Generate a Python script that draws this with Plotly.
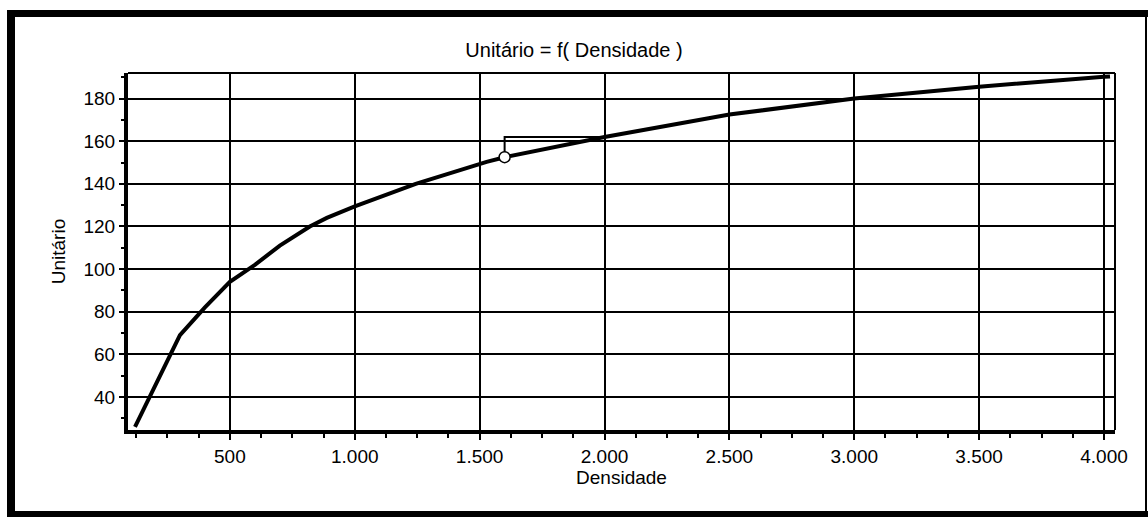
import plotly.graph_objects as go

# ---- data ----
densidade = [120, 200, 300, 400, 500, 600, 700, 820, 888, 1000, 1244, 1528, 1600, 2000, 2500, 3000, 3500, 4000, 4024]
unitario = [26, 45, 69, 82, 94, 102, 111, 120, 124, 129.4, 140, 150.3, 152.5, 162, 172.5, 180, 185.6, 190.2, 190.4]

marker_x = [1600]
marker_y = [152.5]
bracket_x = [1600, 1600, 2000]
bracket_y = [152.5, 162, 162]

x_tickvals = [500, 1000, 1500, 2000, 2500, 3000, 3500, 4000]
x_ticktext = ["500", "1.000", "1.500", "2.000", "2.500", "3.000", "3.500", "4.000"]
y_tickvals = [40, 60, 80, 100, 120, 140, 160, 180]
y_ticktext = ["40", "60", "80", "100", "120", "140", "160", "180"]

# ---- layout constants ----
W, H = 1148, 517
ML, MR, MT, MB = 128, 33, 73, 87
PW, PH = W - ML - MR, H - MT - MB
FONT = "Liberation Sans, Arial, sans-serif"


def px(x):
    return (x - ML) / PW


def py(y):
    return (H - MB - y) / PH


fig = go.Figure()
fig.add_trace(go.Scatter(x=densidade, y=unitario, mode="lines",
                         line=dict(color="black", width=4), showlegend=False))
fig.add_trace(go.Scatter(x=bracket_x, y=bracket_y, mode="lines",
                         line=dict(color="black", width=2), showlegend=False))
fig.add_trace(go.Scatter(x=marker_x, y=marker_y, mode="markers",
                         marker=dict(size=11, color="white", line=dict(color="black", width=1.5)),
                         showlegend=False))

shapes = []
# outer scanned frame
for (x0, y0, x1, y1) in [(7, 10, 15, 517), (7, 10, 1148, 17), (7, 511, 1148, 517), (1145, 10, 1147, 517)]:
    shapes.append(dict(type="rect", xref="paper", yref="paper",
                       x0=px(x0), x1=px(x1), y0=py(y1), y1=py(y0),
                       fillcolor="black", line=dict(width=0), layer="above"))
# top and right plot frame (thin)
shapes.append(dict(type="line", xref="paper", yref="paper", x0=0, x1=1, y0=1, y1=1,
                   line=dict(color="black", width=2)))
shapes.append(dict(type="line", xref="paper", yref="paper", x0=1, x1=1, y0=0, y1=1,
                   line=dict(color="black", width=2)))

fig.update_layout(
    width=W, height=H,
    margin=dict(l=ML, r=MR, t=MT, b=MB),
    paper_bgcolor="white", plot_bgcolor="white",
    font=dict(family=FONT, color="black"),
    title=dict(text="Unitário = f( Densidade )", x=0.5, xanchor="center",
               y=1 - 50 / H, yanchor="middle", font=dict(size=20, family=FONT)),
    shapes=shapes,
    xaxis=dict(range=[92, 4044], tickvals=x_tickvals, ticktext=x_ticktext,
               showgrid=True, gridcolor="black", gridwidth=1.5, zeroline=False,
               showline=True, linecolor="black", linewidth=4,
               ticks="outside", ticklen=6, tickwidth=1.5, tickcolor="black",
               minor=dict(dtick=125, tick0=0, ticks="outside", ticklen=4, tickwidth=1.5,
                          tickcolor="black", showgrid=False),
               tickfont=dict(size=19, family=FONT),
               title=dict(text="Densidade", font=dict(size=19, family=FONT), standoff=4)),
    yaxis=dict(range=[24.5, 192], tickvals=y_tickvals, ticktext=y_ticktext,
               showgrid=True, gridcolor="black", gridwidth=1.5, zeroline=False,
               showline=True, linecolor="black", linewidth=4,
               ticks="outside", ticklen=5, tickwidth=1.5, tickcolor="black",
               minor=dict(dtick=10, tick0=0, ticks="outside", ticklen=3, tickwidth=1.5,
                          tickcolor="black", showgrid=False),
               tickfont=dict(size=19, family=FONT),
               title=dict(text="Unitário", font=dict(size=19, family=FONT), standoff=14)),
)

fig.write_html("out.html", config={"displayModeBar": False},
               post_script="document.body.style.margin='0';document.body.style.overflow='hidden';")
